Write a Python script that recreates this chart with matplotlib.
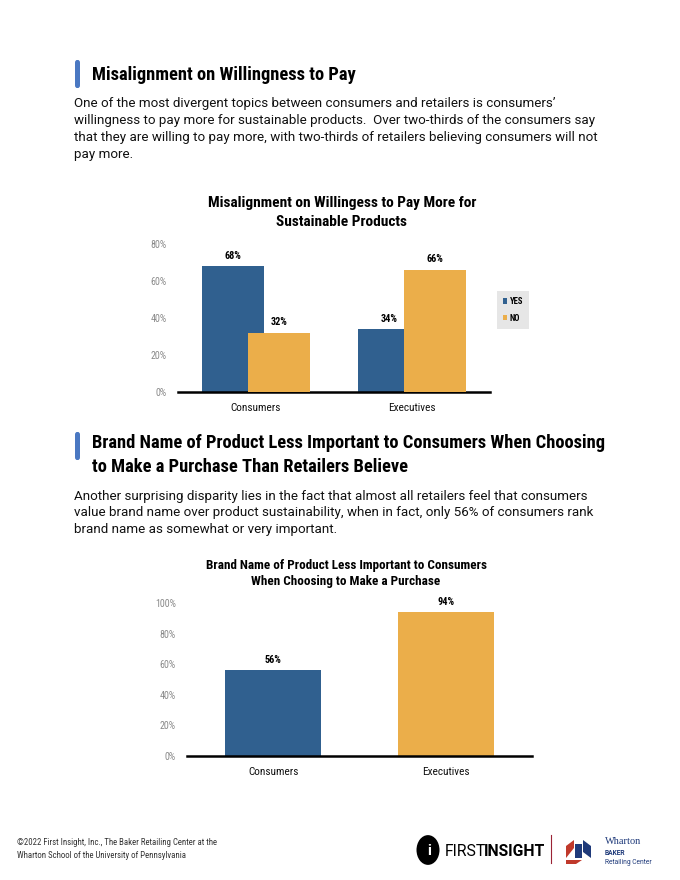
import matplotlib
matplotlib.use("Agg")
import matplotlib.pyplot as plt
from matplotlib.patches import FancyBboxPatch, Circle, Rectangle, Polygon
from matplotlib.lines import Line2D
from matplotlib import font_manager

# ---------------- data ----------------
groups1 = ["Consumers", "Executives"]
yes_vals = [0.68, 0.34]
no_vals = [0.32, 0.66]
series1 = ["YES", "NO"]
yticks1 = [0, 0.2, 0.4, 0.6, 0.8]

groups2 = ["Consumers", "Executives"]
brand_vals = [0.56, 0.94]
yticks2 = [0, 0.2, 0.4, 0.6, 0.8, 1.0]

BLUE = "#30608F"
ORANGE = "#EBAE4A"
W, H = 680, 880

names = {f.name for f in font_manager.fontManager.ttflist}
if "Roboto Condensed" in names:
    COND, K = ["Roboto Condensed", "Roboto"], 0.943
else:
    COND, K = ["Roboto"], 0.82

fig = plt.figure(figsize=(6.8, 8.8), dpi=100)
fig.patch.set_facecolor("white")
FONT = "Roboto"


def fx(x):
    return x / W


def fy(y):
    return 1 - y / H


def axes_px(left, top, right, bottom):
    return fig.add_axes([fx(left), fy(bottom), (right - left) / W, (bottom - top) / H])


def txt(x, y, s, **kw):
    kw.setdefault("family", FONT)
    kw.setdefault("va", "center")
    fig.text(fx(x), fy(y), s, **kw)


def heading_bar(y0, y1):
    fig.patches.append(FancyBboxPatch((fx(75), fy(y1)), fx(5), (y1 - y0) / H,
                                      boxstyle="round,pad=0,rounding_size=0.003",
                                      transform=fig.transFigure, facecolor="#4A78C2",
                                      edgecolor="none"))

HEAD = 14.15 * K

# ---------------- section 1 text ----------------
heading_bar(60, 88)
txt(92, 75, "Misalignment on Willingness to Pay", fontsize=HEAD, weight="bold", family=COND)
body1 = ["One of the most divergent topics between consumers and retailers is consumers\u2019",
         "willingness to pay more for sustainable products.  Over two-thirds of the consumers say",
         "that they are willing to pay more, with two-thirds of retailers believing consumers will not",
         "pay more."]
for i, line in enumerate(body1):
    txt(74, 104 + i * 16.7, line, fontsize=9.65, color="#111111")

# ---------------- chart 1 ----------------
ax1 = axes_px(178, 244, 490, 392)
x = [0, 1]
bw = 0.40
off = 0.148
b_yes = ax1.bar([i - off for i in x], yes_vals, width=bw, color=BLUE, label=series1[0], zorder=2)
b_no = ax1.bar([i + off for i in x], no_vals, width=bw, color=ORANGE, label=series1[1], zorder=3)
ax1.set_xlim(-0.5, 1.5)
ax1.set_ylim(0, 0.8)
ax1.set_yticks(yticks1)
ax1.set_yticklabels([f"{int(round(t*100))}%" for t in yticks1], family=COND, fontsize=7.6 * K, color="#8A8A8A")
ax1.set_xticks(x)
ax1.set_xticklabels(groups1, family=COND, fontsize=8.6 * K, color="#111111")
for s in ["top", "right", "left"]:
    ax1.spines[s].set_visible(False)
ax1.spines["bottom"].set_linewidth(1.8)
ax1.spines["bottom"].set_color("black")
ax1.tick_params(length=0)
ax1.tick_params(axis="x", pad=7.8)
ax1.tick_params(axis="y", pad=8)
for bars, vals in [(b_yes, yes_vals), (b_no, no_vals)]:
    for r, v in zip(bars, vals):
        ax1.annotate(f"{int(round(v*100))}%", (r.get_x() + r.get_width() / 2, v),
                     xytext=(0, 4), textcoords="offset points", ha="center", va="bottom",
                     family=COND, fontsize=7.8 * K, weight="bold")
leg = ax1.legend(loc="center", bbox_to_anchor=(fx(513), fy(310)), bbox_transform=fig.transFigure,
                 frameon=True, fancybox=False, prop={"family": COND, "size": 6.6 * K, "weight": "bold"},
                 handlelength=0.55, handleheight=0.55, handletextpad=0.3, labelspacing=0.9,
                 borderpad=0.7, borderaxespad=0)
leg.get_frame().set_facecolor("#E6E6E6")
leg.get_frame().set_edgecolor("none")
leg.get_frame().set_alpha(1)

txt(342, 203, "Misalignment on Willingess to Pay More for", fontsize=11.75 * K, weight="bold", ha="center", family=COND)
txt(342, 222, "Sustainable Products", fontsize=11.75 * K, weight="bold", ha="center", family=COND)

# ---------------- section 2 text ----------------
heading_bar(432, 460)
txt(92, 443, "Brand Name of Product Less Important to Consumers When Choosing", fontsize=HEAD,
    weight="bold", family=COND)
txt(92, 467, "to Make a Purchase Than Retailers Believe", fontsize=HEAD, weight="bold", family=COND)
body2 = ["Another surprising disparity lies in the fact that almost all retailers feel that consumers",
         "value brand name over product sustainability, when in fact, only 56% of consumers rank",
         "brand name as somewhat or very important."]
for i, line in enumerate(body2):
    txt(74, 496 + i * 16.7, line, fontsize=9.65, color="#111111")

# ---------------- chart 2 ----------------
ax2 = axes_px(187, 603, 532, 756)
b2 = ax2.bar([0, 1], brand_vals, width=0.555, color=[BLUE, ORANGE], zorder=2)
ax2.set_xlim(-0.5, 1.5)
ax2.set_ylim(0, 1.0)
ax2.set_yticks(yticks2)
ax2.set_yticklabels([f"{int(round(t*100))}%" for t in yticks2], family=COND, fontsize=7.6 * K, color="#8A8A8A")
ax2.set_xticks([0, 1])
ax2.set_xticklabels(groups2, family=COND, fontsize=8.6 * K, color="#111111")
for s in ["top", "right", "left"]:
    ax2.spines[s].set_visible(False)
ax2.spines["bottom"].set_linewidth(1.8)
ax2.spines["bottom"].set_color("black")
ax2.tick_params(length=0)
ax2.tick_params(axis="x", pad=7.8)
ax2.tick_params(axis="y", pad=8)
for r, v in zip(b2, brand_vals):
    ax2.annotate(f"{int(round(v*100))}%", (r.get_x() + r.get_width() / 2, v),
                 xytext=(0, 4), textcoords="offset points", ha="center", va="bottom",
                 family=COND, fontsize=7.8 * K, weight="bold")

txt(346, 565, "Brand Name of Product Less Important to Consumers", fontsize=10.05 * K, weight="bold",
    ha="center", family=COND)
txt(346, 581, "When Choosing to Make a Purchase", fontsize=10.05 * K, weight="bold", ha="center", family=COND)

# ---------------- footer ----------------
txt(17, 842, "\u00a92022 First Insight, Inc., The Baker Retailing Center at the", fontsize=6.72 * K,
    color="#333333", family=COND)
txt(17, 855, "Wharton School of the University of Pennsylvania", fontsize=6.72 * K, color="#333333", family=COND)

fig.patches.append(Circle((fx(428), fy(850)), 11.5 / W, transform=fig.transFigure,
                          facecolor="black", edgecolor="none"))
txt(429, 851, "i", fontsize=11, weight="bold", color="white", ha="center")
txt(445, 851, "FIRST", fontsize=11.3, color="black")
txt(484, 851, "INSIGHT", fontsize=11.3, weight="bold", color="black")
fig.lines.append(Line2D([fx(551), fx(551)], [fy(835), fy(863)], transform=fig.transFigure,
                        color="#9B2335", lw=0.8))
# small emblem
fig.patches.append(Polygon([(fx(566), fy(846)), (fx(574), fy(840)), (fx(574), fy(848)), (fx(566), fy(858))],
                           closed=True, transform=fig.transFigure, facecolor="#C0392B", edgecolor="none"))
fig.patches.append(Rectangle((fx(575), fy(858)), 7 / W, 14 / H, transform=fig.transFigure,
                             facecolor="#1F3A7A", edgecolor="none"))
fig.patches.append(Polygon([(fx(583), fy(840)), (fx(591), fy(846)), (fx(591), fy(858)), (fx(583), fy(852))],
                           closed=True, transform=fig.transFigure, facecolor="#1F3A7A", edgecolor="none"))
fig.patches.append(Polygon([(fx(566), fy(860)), (fx(582), fy(860)), (fx(576), fy(864)), (fx(566), fy(864))],
                           closed=True, transform=fig.transFigure, facecolor="#C0392B", edgecolor="none"))
txt(605, 841, "Wharton", fontsize=7.5, family="Liberation Serif", color="#1F3A7A")
txt(605, 853, "BAKER", fontsize=4.8, weight="bold", color="#1F3A7A")
txt(605, 862, "Retailing Center", fontsize=4.8, color="#1F3A7A")

fig.savefig("out.png", dpi=100, facecolor="white")
